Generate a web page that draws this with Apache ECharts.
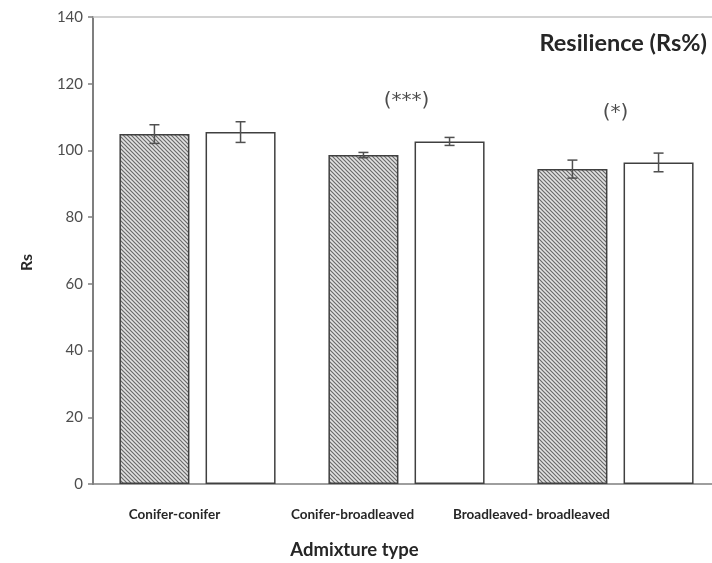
<!DOCTYPE html>
<html>
<head>
<meta charset="utf-8">
<script src="https://cdn.jsdelivr.net/npm/echarts@6/dist/echarts.min.js"></script>
<style>
  html, body { margin: 0; padding: 0; background: #fff; }
  #chart { width: 712px; height: 563px; }
</style>
</head>
<body>
<div id="chart"></div>
<script>
// Admixture types on the x axis
const categories = ['Conifer-conifer', 'Conifer-broadleaved', 'Broadleaved- broadleaved'];
// Hatched bars: mean resilience and its error
const hatchedValues = [104.9, 98.6, 94.4];
const hatchedErrors = [2.8, 0.8, 2.7];
// Open bars: mean resilience and its error
const openValues = [105.5, 102.7, 96.4];
const openErrors = [3.1, 1.2, 2.8];
// Significance marks above each group
const significanceText = ['', '(***)', '(*)'];
const significanceY = [null, 114.8, 111.2];
// Y axis range
const yMin = 0, yMax = 140, yStep = 20;

const FONT = 'Lato, "Open Sans", sans-serif';
const BAR_RATIO = 0.335;   // bar width as a share of the category band
const BAR_GAP = 0.23;      // gap between the two bars, as a share of bar width

// Diagonal hatch fill for the first series
function makeHatch() {
  const c = document.createElement('canvas');
  c.width = 4; c.height = 4;
  const g = c.getContext('2d');
  g.fillStyle = '#e2e2e2';
  g.fillRect(0, 0, 4, 4);
  g.strokeStyle = '#6a6a6a';
  g.lineWidth = 1.2;
  g.beginPath();
  g.moveTo(-1, -1); g.lineTo(5, 5);
  g.moveTo(-1, 3); g.lineTo(1, 5);
  g.moveTo(3, -1); g.lineTo(5, 1);
  g.stroke();
  return c;
}

// Error bar series placed over the left (-1) or right (+1) bar of each group
function errorSeries(values, errors, side) {
  return {
    type: 'custom',
    z: 5,
    silent: true,
    data: values.map((v, i) => [i, v, errors[i]]),
    renderItem(params, api) {
      const i = api.value(0), v = api.value(1), e = api.value(2);
      const band = api.size([1, 0])[0];
      const bw = band * BAR_RATIO;
      const off = side * bw * (1 + BAR_GAP) / 2;
      const top = api.coord([i, v + e]);
      const bot = api.coord([i, v - e]);
      const x = top[0] + off;
      const cap = 5;
      const style = { stroke: '#505050', lineWidth: 1.5, fill: null };
      return {
        type: 'group',
        children: [
          { type: 'line', shape: { x1: x, y1: top[1], x2: x, y2: bot[1] }, style },
          { type: 'line', shape: { x1: x - cap, y1: top[1], x2: x + cap, y2: top[1] }, style },
          { type: 'line', shape: { x1: x - cap, y1: bot[1], x2: x + cap, y2: bot[1] }, style }
        ]
      };
    }
  };
}

// Per-label horizontal shift (px, leftwards) of the category labels
const labelShift = [23, 54, 84];

const chart = echarts.init(document.getElementById('chart'), null, { renderer: 'canvas' });
chart.setOption({
  animation: false,
  backgroundColor: '#ffffff',
  textStyle: { fontFamily: FONT },
  title: {
    text: 'Resilience (Rs%)',
    right: 5,
    top: 31,
    padding: 0,
    textStyle: { fontFamily: FONT, fontSize: 23.5, fontWeight: 'bold', color: '#262626' }
  },
  grid: {
    left: 93, top: 17, width: 627, bottom: 79,
    containLabel: false,
    outerBoundsMode: 'none'
  },
  xAxis: [
    {
      type: 'category',
      data: categories.map((c, i) => ({
        value: c,
        textStyle: { padding: [0, labelShift[i] * 2, 0, 0] }
      })),
      axisLine: { lineStyle: { color: '#7f7f7f', width: 1.5 } },
      axisTick: { show: false },
      axisLabel: {
        interval: 0,
        margin: 24,
        fontFamily: FONT,
        fontSize: 13.5,
        fontWeight: 'bold',
        color: '#262626'
      },
      name: 'Admixture type',
      nameLocation: 'middle',
      nameGap: 57,
      nameTextStyle: {
        fontFamily: FONT, fontSize: 18.5, fontWeight: 'bold', color: '#262626',
        padding: [0, 104, 0, 0]
      }
    },
    {
      type: 'category',
      position: 'top',
      data: categories,
      axisLine: { lineStyle: { color: '#c4c4c4', width: 1.5 } },
      axisTick: { show: false },
      axisLabel: { show: false }
    }
  ],
  yAxis: {
    type: 'value',
    min: yMin,
    max: yMax,
    interval: yStep,
    axisLine: { show: true, lineStyle: { color: '#7f7f7f', width: 2 } },
    axisTick: { show: true, inside: false, length: 5, lineStyle: { color: '#7f7f7f', width: 1.5 } },
    splitLine: { show: false },
    axisLabel: { margin: 10, fontFamily: FONT, fontSize: 15, color: '#4d4d4d' },
    name: 'Rs',
    nameLocation: 'middle',
    nameGap: 58,
    nameTextStyle: {
      fontFamily: FONT, fontSize: 16, fontWeight: 'bold', color: '#262626',
      padding: [0, 24, 0, 0]
    }
  },
  series: [
    {
      type: 'bar',
      data: hatchedValues,
      barWidth: (BAR_RATIO * 100) + '%',
      barGap: (BAR_GAP * 100) + '%',
      itemStyle: {
        color: { image: makeHatch(), repeat: 'repeat' },
        borderColor: '#404040',
        borderWidth: 1.5
      }
    },
    {
      type: 'bar',
      data: openValues,
      barWidth: (BAR_RATIO * 100) + '%',
      barGap: (BAR_GAP * 100) + '%',
      itemStyle: { color: '#ffffff', borderColor: '#404040', borderWidth: 1.5 }
    },
    errorSeries(hatchedValues, hatchedErrors, -1),
    errorSeries(openValues, openErrors, 1),
    {
      type: 'scatter',
      silent: true,
      symbolSize: 0,
      z: 6,
      data: significanceText.map((t, i) => t ? [i, significanceY[i]] : [i, null]),
      label: {
        show: true,
        position: 'inside',
        formatter: p => significanceText[p.dataIndex],
        fontFamily: '"DejaVu Sans", sans-serif',
        fontSize: 20,
        color: '#1f1f1f'
      }
    }
  ]
});
</script>
</body>
</html>
